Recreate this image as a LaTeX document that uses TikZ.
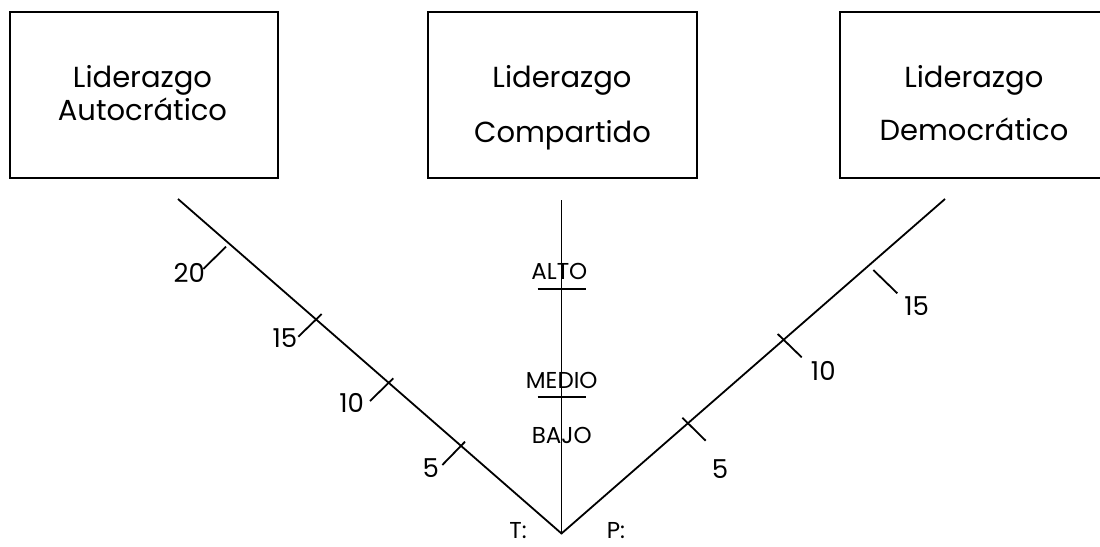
\documentclass[tikz,border=0pt]{standalone}
\usepackage{fontspec}
\setmainfont{Poppins}
\begin{document}
\begin{tikzpicture}[x=1pt,y=-1pt,
  box/.style={draw,line width=2.4pt,inner sep=0pt,anchor=north west},
  axis/.style={line width=1.8pt},
  tick/.style={line width=1.8pt},
  boxtext/.style={font=\fontsize{29}{34}\selectfont,inner sep=0pt,anchor=base},
  ticklabel/.style={font=\fontsize{26}{30}\selectfont,inner sep=0pt},
  level/.style={font=\fontsize{23}{28}\selectfont,inner sep=0pt}]
\clip (0,0) rectangle (1100,546);

% the three leadership boxes
\node[box,minimum width=267.7pt,minimum height=165.7pt] (bAuto) at (9,11) {};
\node[box,minimum width=268.7pt,minimum height=165.7pt] (bComp) at (427,11) {};
\node[box,minimum width=270pt,minimum height=165.7pt] (bDemo) at (839,11) {};

\node[boxtext] (tA1) at (142.5,87.3) {Liderazgo};
\node[boxtext] (tA2) at (142.5,120.7) {Autocrático};
\node[boxtext] (tC1) at (562,87.3) {Liderazgo};
\node[boxtext] (tC2) at (562.5,142.7) {Compartido};
\node[boxtext] (tD1) at (973.8,87.3) {Liderazgo};
\node[boxtext] (tD2) at (974,140) {Democrático};

% the three scales meeting at the origin
\coordinate (O) at (561.5,533.5);
\coordinate (Ltop) at (178,199);
\coordinate (Mtop) at (561.5,200);
\coordinate (Rtop) at (945,199);
\draw[axis] (Ltop) -- (O) -- (Rtop);
\draw[axis] (Mtop) -- (O);

% ticks on the left scale
\coordinate (l20a) at (226,246.7);   \coordinate (l20b) at (203.3,269);
\coordinate (l15a) at (321.7,314);   \coordinate (l15b) at (298.3,336.7);
\coordinate (l10a) at (393.3,378.3); \coordinate (l10b) at (370,401);
\coordinate (l5a)  at (465,441.7);   \coordinate (l5b)  at (442.3,465);
\draw[tick] (l20a) -- (l20b);
\draw[tick] (l15a) -- (l15b);
\draw[tick] (l10a) -- (l10b);
\draw[tick] (l5a) -- (l5b);
\node[ticklabel] (nl20) at (189.3,272.7) {20};
\node[ticklabel] (nl15) at (285,338) {15};
\node[ticklabel] (nl10) at (351.7,403) {10};
\node[ticklabel] (nl5)  at (430.7,468) {5};

% ticks on the right scale
\coordinate (r5a)  at (682.3,417.7); \coordinate (r5b)  at (705.7,440.7);
\coordinate (r10a) at (777.7,334);   \coordinate (r10b) at (801.7,357.3);
\coordinate (r15a) at (873.3,270);   \coordinate (r15b) at (897.3,293.3);
\draw[tick] (r5a) -- (r5b);
\draw[tick] (r10a) -- (r10b);
\draw[tick] (r15a) -- (r15b);
\node[ticklabel] (nr5)  at (720,469.3) {5};
\node[ticklabel] (nr10) at (823.3,371) {10};
\node[ticklabel] (nr15) at (916.7,306) {15};

% levels on the middle scale
\coordinate (mAa) at (537.7,289);   \coordinate (mAb) at (585.7,289);
\coordinate (mMa) at (537.7,397.3); \coordinate (mMb) at (585.7,397.3);
\draw[tick] (mAa) -- (mAb);
\draw[tick] (mMa) -- (mMb);
\node[level] (alto)  at (559.3,271.7) {ALTO};
\node[level] (medio) at (561.7,380) {MEDIO};
\node[level] (bajo)  at (561.7,435.7) {BAJO};

% origin labels
\node[level] (T) at (518,530.5) {T:};
\node[level] (P) at (616,530.5) {P:};
\end{tikzpicture}
\end{document}
